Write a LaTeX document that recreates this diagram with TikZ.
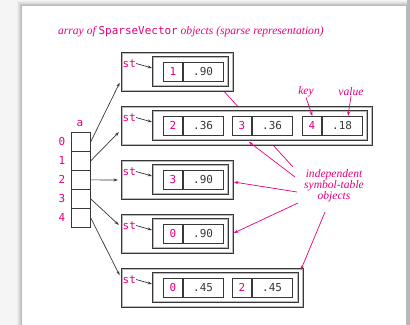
\documentclass[tikz,border=0pt]{standalone}
\usepackage{fontspec}
\setmainfont{Liberation Serif}
\setmonofont{DejaVu Sans Mono}
\usetikzlibrary{arrows.meta}
\definecolor{mag}{HTML}{E6007E}
\definecolor{ink}{HTML}{383838}
\pgfdeclarelayer{back}
\pgfdeclarelayer{mid}
\pgfsetlayers{back,mid,main}
\newcommand\mono{\ttfamily\fontsize{11}{12}\selectfont}
\newcommand\kvpair[5]{%
  \node[kcell] (k#1) at (#2,#3) {#4};
  \node[vcell] (v#1) at (k#1.north east) {#5};}
\newcommand\stbox[4]{% index, top y, outer width, entries
  \node[outerbox, minimum width=#3bp] (b#1) at (121,#2) {};
  \draw[gray!55, line width=0.6bp] ([shift={(1.3,1.3)}]b#1.north west) rectangle ([shift={(-1.3,-1.3)}]b#1.south east);
  \node[innerbox, minimum width=#3bp-36bp] (in#1) at (152,#2+4) {};
  \draw[gray!55, line width=0.6bp] ([shift={(1.3,1.3)}]in#1.north west) rectangle ([shift={(-1.3,-1.3)}]in#1.south east);
  \node[sttext] (st#1) at (122.5,#2+11.5) {st};
  \draw[ptr] (st#1.east) -- ([yshift=-12bp]in#1.north west);
  #4}
\begin{document}
\begin{tikzpicture}[x=1bp,y=-1bp,
  outerbox/.style={rectangle, draw=ink, line width=0.8bp, fill=white, inner sep=0pt, anchor=north west, minimum height=39bp},
  innerbox/.style={rectangle, draw=ink, line width=0.8bp, fill=white, inner sep=0pt, anchor=north west, minimum height=30bp},
  kcell/.style={rectangle, draw=ink, line width=0.7bp, inner sep=0pt, anchor=north west, minimum height=19bp, minimum width=19bp, text=mag, font=\mono},
  vcell/.style={rectangle, draw=ink, line width=0.7bp, inner sep=0pt, anchor=north west, minimum height=19bp, minimum width=40bp, text=ink, font=\mono},
  acell/.style={rectangle, draw=ink, line width=0.7bp, inner sep=0pt, anchor=north west, minimum height=19bp, minimum width=19bp},
  sttext/.style={anchor=west, inner sep=0pt, text=mag, font=\mono},
  idx/.style={inner sep=0pt, text=mag, font=\mono},
  ptr/.style={draw=ink, line width=0.7bp, -{Stealth[length=4.5bp,width=3bp]}},
  mptr/.style={draw=mag, line width=0.7bp, -{Stealth[length=4.5bp,width=3bp]}},
  note/.style={text=mag, font=\itshape\fontsize{11.6}{11}\selectfont, inner sep=0pt}
]
\useasboundingbox (0,0) rectangle (410,325);
\begin{pgfonlayer}{back}
  \fill[gray!8] (0,0) rectangle (410,325);
  \foreach \s/\o in {5/0.03,4/0.04,3/0.05,2/0.06,1/0.08}
    \fill[black, opacity=\o] (22-\s,6-\s) rectangle (406+\s,330);
  \fill[white] (22,6) rectangle (406,330);
  \fill[gray!55] (407,0) rectangle (410,325);
\end{pgfonlayer}

% title
\node[note, anchor=west] (title) at (58,32) {array of {\upshape\mono SparseVector} objects (sparse representation)};

% symbol-table objects
\stbox{1}{52}{112}{\kvpair{1a}{163}{62}{1}{.90}}
\stbox{2}{106}{251}{\kvpair{2a}{163}{116}{2}{.36}\kvpair{2b}{232}{116}{3}{.36}\kvpair{2c}{302}{116}{4}{.18}}
\stbox{3}{160}{112}{\kvpair{3a}{163}{170}{3}{.90}}
\stbox{4}{214}{112}{\kvpair{4a}{163}{224}{0}{.90}}
\stbox{5}{268}{182}{\kvpair{5a}{163}{278}{0}{.45}\kvpair{5b}{232}{278}{2}{.45}}

% array a
\node[idx] (alab) at (80,124) {a};
\foreach \i in {0,...,4} {
  \node[acell] (a\i) at (71,132+19*\i) {};
  \node[idx] (ai\i) at (62,141.5+19*\i) {\i};
}
\draw[ptr, shorten >=3bp] (a0.east) -- ([yshift=-28bp]b1.north west);
\draw[ptr, shorten >=3bp] (a1.east) -- ([yshift=-24bp]b2.north west);
\draw[ptr, shorten >=3bp] (a2.east) -- ([yshift=-20bp]b3.north west);
\draw[ptr, shorten >=3bp] (a3.east) -- ([yshift=-13bp]b4.north west);
\draw[ptr, shorten >=3bp] (a4.east) -- ([yshift=-10bp]b5.north west);

% annotations
\node[note] (keylab) at (306,92) {key};
\node[note] (vallab) at (351,92) {value};
\draw[mptr] (keylab.south) -- ([xshift=0.5bp]k2c.north);
\draw[mptr] (vallab.south) -- ([xshift=6bp]v2c.north);

\node[note, align=center] (indep) at (334,186) {independent\\symbol-table\\objects};
\coordinate (lA) at (293,167);
\coordinate (lB) at (295,177);
\coordinate (lC) at (297,192);
\coordinate (lD) at (298,203);
\coordinate (lE) at (325,212);
\begin{pgfonlayer}{mid}
  \draw[mptr] (lA) -- ([xshift=-8bp,yshift=-1bp]in1.south east);
\end{pgfonlayer}
\draw[mptr] (lB) -- ([xshift=-119bp,yshift=-1bp]in2.south east);
\draw[mptr] (lC) -- ([yshift=-22bp]b3.north east);
\draw[mptr] (lD) -- ([yshift=-19bp]b4.north east);
\draw[mptr] (lE) -- ([shift={(-3bp,-2bp)}]b5.north east);
\end{tikzpicture}
\end{document}
